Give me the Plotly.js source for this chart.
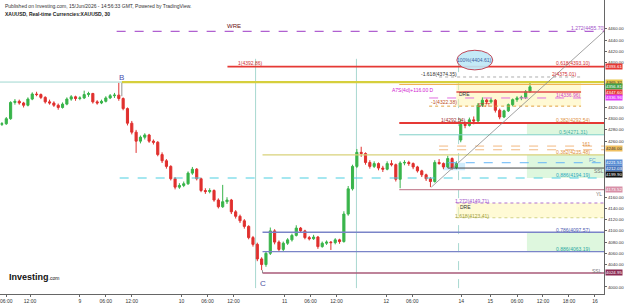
<!DOCTYPE html>
<html><head><meta charset="utf-8">
<script src="https://cdn.plot.ly/plotly-3.0.1.min.js"></script>
<style>html,body{margin:0;padding:0;background:#fff}#c{width:625px;height:304px}</style>
</head><body><div id="c"></div>
<script>
// ---- candle data (hourly-ish, index based) ----
const open  = [4286,4290,4291,4300,4329,4331,4328,4324,4335,4344,4343,4338,4330,4328,4324,4320,4326,4335,4339,4336,4337,4343,4345,4330,4328,4331,4337,4341,4342,4336,
4318,4292,4276,4260,4267,4271,4260,4258,4236,4225,4215,4193,4178,4181,4184,4203,4210,4193,4172,4170,4172,4155,4143,4152,4155,4134,4126,4118,4108,4088,
4076,4050,4040,4060,4100,4080,4067,4078,4084,4092,4105,4100,4088,4086,4089,4072,4078,4080,4079,4084,4081,4130,4175,4215,4240,4238,4222,4215,4220,4212,
4210,4220,4218,4192,4221,4222,4220,4214,4207,4200,4193,4188,4222,4220,4214,4229,4213,4262,4290,4288,4298,4296,4324,4333,4330,4333,4315,4303,4314,4325,
4334,4337,4338,4348];
const high  = [4292,4294,4303,4331,4335,4334,4330,4338,4347,4348,4345,4340,4334,4331,4327,4329,4338,4342,4341,4340,4350,4348,4346,4333,4334,4340,4344,4346,4364,4338,
4320,4296,4280,4270,4274,4273,4263,4260,4240,4228,4217,4196,4185,4188,4206,4214,4212,4195,4176,4176,4174,4158,4182,4160,4157,4137,4129,4121,4110,4091,
4079,4053,4063,4106,4103,4083,4081,4087,4095,4110,4107,4102,4091,4093,4091,4081,4083,4082,4087,4086,4135,4180,4218,4246,4250,4240,4226,4224,4222,4216,
4224,4226,4220,4224,4226,4225,4222,4216,4209,4202,4196,4226,4228,4222,4234,4231,4224,4300,4295,4302,4304,4328,4338,4336,4337,4335,4318,4316,4327,4336,
4340,4341,4351,4366];
const low   = [4283,4287,4289,4298,4325,4325,4320,4322,4333,4340,4335,4327,4325,4321,4316,4318,4324,4332,4332,4333,4335,4339,4327,4325,4326,4329,4335,4337,4332,4315,
4288,4272,4239,4256,4263,4257,4254,4233,4221,4211,4190,4174,4175,4178,4182,4200,4190,4169,4166,4167,4152,4140,4141,4148,4130,4122,4114,4104,4085,4072,
4046,4030,4036,4057,4076,4063,4064,4075,4081,4090,4097,4085,4083,4084,4068,4070,4075,4066,4076,4077,4079,4127,4172,4212,4232,4218,4211,4212,4208,4205,
4208,4215,4188,4176,4217,4216,4210,4204,4196,4189,4178,4186,4218,4210,4212,4209,4210,4258,4283,4286,4290,4294,4321,4326,4327,4311,4299,4301,4312,4322,
4330,4333,4335,4346];
const close = [4290,4291,4300,4329,4331,4328,4324,4335,4344,4343,4338,4330,4328,4324,4320,4326,4335,4339,4336,4337,4343,4345,4330,4328,4331,4337,4341,4342,4336,4318,
4292,4276,4260,4267,4271,4260,4258,4236,4225,4215,4193,4178,4181,4184,4203,4210,4193,4172,4170,4172,4155,4143,4152,4155,4134,4126,4118,4108,4088,4076,
4050,4040,4060,4100,4080,4067,4078,4084,4092,4105,4100,4088,4086,4089,4072,4078,4080,4079,4084,4081,4130,4175,4215,4240,4238,4222,4215,4220,4212,4210,
4220,4218,4192,4221,4222,4220,4214,4207,4200,4193,4188,4222,4220,4214,4229,4213,4220,4290,4288,4298,4296,4324,4333,4330,4333,4315,4303,4314,4325,4334,
4337,4338,4348,4356.81];

// ---- axis ticks ----
const xTickVals = [2,7.5,19,25,31,42.5,48.5,54.5,66.3,72.3,78.3,89.8,95.8,107.1,113.8,120,126,132,138];
const xTickText = ["06:00","12:00","9","06:00","12:00","10","06:00","12:00","11","06:00","12:00","12","06:00","14","15","06:00","12:00","18:00","16"];
const yTickVals = [4000,4040,4060,4080,4100,4120,4140,4160,4260,4280,4300,4320,4400,4420,4440,4460];

// ---- drawn levels ----
const levelValues = [4455.70,4392.86,4374.35,4365.32,4347.60,4336.96,4322.38,4292.54,4271.31,4251.20,4244.60,4235.48,4221.51,4212.03,4194.19,4173.52,4149.71,4123.41,4097.57,4063.19,4024.95];
const priceTags   = [4393.61,4365.32,4356.81,4347.60,4336.96,4246.00,4221.51,4212.03,4199.90,4173.52,4024.95];
const pivotB = 4364, pivotC = 4030;

const END = 140.1;
const lvlStyle = [
 [27.5,END,'#b060d0',1.2,'dash'],
 [53.1,END,'#e53935',1.6,'solid'],
 [102,134.8,'#999',0.8,'dot'],
 [28.7,END,'#d6cf3c',2.2,'solid'],
 [106,134.8,'#e24a4a',1.4,'solid'],
 [99.7,134.8,'#e070e0',1,'dash'],
 [99.7,134.8,'#e0a040',1,'dot'],
 [92.8,END,'#e53935',2,'solid'],
 [92.8,END,'#80d0c8',1,'solid'],
 [102,END,'#f2b880',1,'dash'],
 [102,END,'#f2b880',1,'dash'],
 [61.2,END,'#d8d27a',1.3,'solid'],
 [104,END,'#64b5f6',1,'dash'],
 [104,END,'#444',1,'solid'],
 [28.2,END,'#4dd0e1',1.1,'dash'],
 [92.8,END,'#c88a9a',1.2,'solid'],
 [106,END,'#b070d0',1,'dot'],
 [106,END,'#c8c870',0.8,'dot'],
 [61.2,END,'#7a84c8',1.3,'solid'],
 [61.2,END,'#7a84c8',1.3,'solid'],
 [61.2,END,'#a85a78',1.4,'solid']
];
const tagColors = ['#e53935','#e8c84a','#43a047','#e53935','#e040fb','#f0c060','#5b8fd6','#4a78c0','#111','#d890a8','#8b2a52'];
const tagFont   = ['#fff','#333','#fff','#fff','#fff','#333','#fff','#fff','#fff','#fff','#fff'];

const idx = close.map((_, i) => i);

const shapes = [];
const zone = (x0,x1,y0,y1,c)=>shapes.push({type:'rect',xref:'x',yref:'y',x0,x1,y0,y1,fillcolor:c,line:{width:0},layer:'below'});
zone(106,134.8,levelValues[6],levelValues[3],'rgba(255,244,170,0.5)');
zone(122.3,END,levelValues[8],levelValues[7],'rgba(200,242,200,0.6)');
zone(122.3,END,levelValues[14],levelValues[11],'rgba(200,242,200,0.6)');
zone(106,END,levelValues[17],levelValues[16],'rgba(255,246,185,0.6)');
zone(122.3,END,levelValues[19],levelValues[18],'rgba(200,242,200,0.6)');
zone(103,108,4208,levelValues[12],'rgba(150,215,250,0.45)');
[[59.6,'solid'],[82.9,'solid'],[106.5,'dash']].forEach(([x,d])=>shapes.push({type:'line',xref:'x',yref:'paper',x0:x,x1:x,y0:0.02,y1:0.8,line:{color:'#a8d8d0',width:1,dash:d},layer:'below'}));
levelValues.forEach((v,i)=>{const s=lvlStyle[i];shapes.push({type:'line',xref:'x',yref:'y',x0:s[0],x1:s[1],y0:v,y1:v,line:{color:s[2],width:s[3],dash:s[4]}});});
shapes.push({type:'line',xref:'x',yref:'y',x0:0.55,x1:28.7,y0:levelValues[3],y1:levelValues[3],line:{color:'#9fd8d0',width:1}});
shapes.push({type:'line',xref:'x',yref:'y',x0:92.8,x1:END,y0:4361,y1:4361,line:{color:'#f0b050',width:1}});
shapes.push({type:'line',xref:'x',yref:'y',x0:100.2,x1:END,y0:4178,y1:levelValues[0],line:{color:'#8a8a8a',width:0.8}});
shapes.push({type:'circle',xref:'x',yref:'y',x0:106.1,x1:114.4,y0:4387,y1:4422,fillcolor:'rgba(190,232,246,0.9)',line:{color:'#c04858',width:1}});
shapes.push({type:'line',xref:'x',yref:'y',x0:28.7,x1:28.7,y0:pivotB,y1:4340,line:{color:'#777',width:0.8}});
shapes.push({type:'line',xref:'x',yref:'y',x0:61.2,x1:61.2,y0:pivotC,y1:levelValues[20],line:{color:'#777',width:0.8}});

const fs = 5;
const ann = [];
const A = (x,y,t,c,o={})=>ann.push(Object.assign({x,y,xref:'x',yref:'y',text:t,showarrow:false,font:{size:fs,color:c,family:'Liberation Sans, Arial'}},o));
A(54.7,4466,'WRE','#8b1a1a',{font:{size:6,color:'#6b1010',family:'Liberation Sans'}});
A(136.5,4462,'1.272(4455.70)','#a050c8');
A(28.7,4374,'B','#4a50b0',{font:{size:8,color:'#4a50b0',family:'Liberation Sans'}});
A(61.2,4006,'C','#4a50a0',{font:{size:8,color:'#4a50a0',family:'Liberation Sans'}});
A(58.5,4399,'1(4392.86)','#d03030');
A(133,4399,'0.618(4393.10)','#d03030');
A(110.25,4404.6,'100%(4404.61)','#4060a0');
A(102,4380,'-1.618(4374.35)','#333');
A(131,4380,'2(4375.01)','#d03030');
A(96,4351,'A7S(4d)+116.00 D','#d020d0');
A(107.8,4344,'DRE','#333');
A(112.4,4325,'ST7T','#d03030');
A(103.2,4330,'-1(4322.38)','#c05020');
A(132,4343,'1(4336.96)','#d040d0');
A(105.3,4297,'1(4292.54)','#a03030');
A(133,4298,'0.382(4292.54)','#e09040');
A(133,4276,'0.5(4271.31)','#40b0a8');
A(136,4255,'161','#e09040');
A(133,4240,'0.382(4235.48)','#e09040');
A(137.5,4226,'FC','#60a0d0');
A(139,4206,'SSL','#777');
A(133,4199,'0.886(4194.19)','#2aa8c0');
A(139,4166,'YL','#777');
A(109.5,4154,'1.272(4149.71)','#a050c8');
A(108,4143,'DRE','#333');
A(109.5,4127,'1.618(4123.41)','#a0a040');
A(133,4102,'0.786(4097.57)','#5060b0');
A(133,4068,'0.886(4063.19)','#2aa8a0');
A(138.5,4029,'SSL','#777');
ann.push({xref:'paper',yref:'paper',x:0.005,y:0.995,xanchor:'left',yanchor:'top',showarrow:false,align:'left',
 text:'Published on Investing.com, 15/Jun/2026 - 14:56:33 GMT, Powered by TradingView.',font:{size:5,color:'#333',family:'Liberation Sans'}});
ann.push({xref:'paper',yref:'paper',x:0.005,y:0.968,xanchor:'left',yanchor:'top',showarrow:false,align:'left',
 text:'<b>XAUUSD, Real-time Currencies:XAUUSD, 30</b>',font:{size:5,color:'#222',family:'Liberation Sans'}});
ann.push({xref:'paper',yref:'paper',x:0.012,y:0.035,xanchor:'left',yanchor:'bottom',showarrow:false,
 text:'<b>Investing</b><span style="font-size:5px">.com</span>',font:{size:9,color:'#111',family:'Liberation Sans'}});
priceTags.forEach((v,i)=>ann.push({xref:'paper',yref:'y',x:1.001,y:v,xanchor:'left',yanchor:'middle',showarrow:false,
 text:v.toFixed(2),bgcolor:tagColors[i],borderpad:0,font:{size:4.4,color:tagFont[i],family:'Liberation Sans'}}));

const trace = {type:'candlestick',x:idx,open,high,low,close,whiskerwidth:0,
 increasing:{line:{color:'#38b44a',width:1},fillcolor:'#38b44a'},
 decreasing:{line:{color:'#e0302e',width:1},fillcolor:'#e0302e'},hoverinfo:'skip'};

const layout = {width:625,height:304,margin:{l:0,r:21,t:0,b:10},paper_bgcolor:'#fff',plot_bgcolor:'#fff',showlegend:false,
 font:{family:'Liberation Sans, Arial',size:5,color:'#333'},
 xaxis:{type:'linear',range:[0.55,END],tickvals:xTickVals,ticktext:xTickText,showgrid:false,zeroline:false,showline:true,linecolor:'#666',linewidth:1,
   ticks:'outside',ticklen:2,tickcolor:'#666',tickfont:{size:5,color:'#333'},rangeslider:{visible:false},ticklabeloverflow:'allow',fixedrange:true},
 yaxis:{side:'right',range:[3987.5,4511.6],tickvals:yTickVals,tickformat:'.2f',showgrid:false,zeroline:false,showline:true,linecolor:'#666',linewidth:1,
   ticks:'outside',ticklen:2,tickcolor:'#666',tickfont:{size:4.4,color:'#333'},ticklabelstandoff:0,fixedrange:true},
 shapes,annotations:ann};
Plotly.newPlot('c',[trace],layout,{staticPlot:true,displayModeBar:false});
</script></body></html>
